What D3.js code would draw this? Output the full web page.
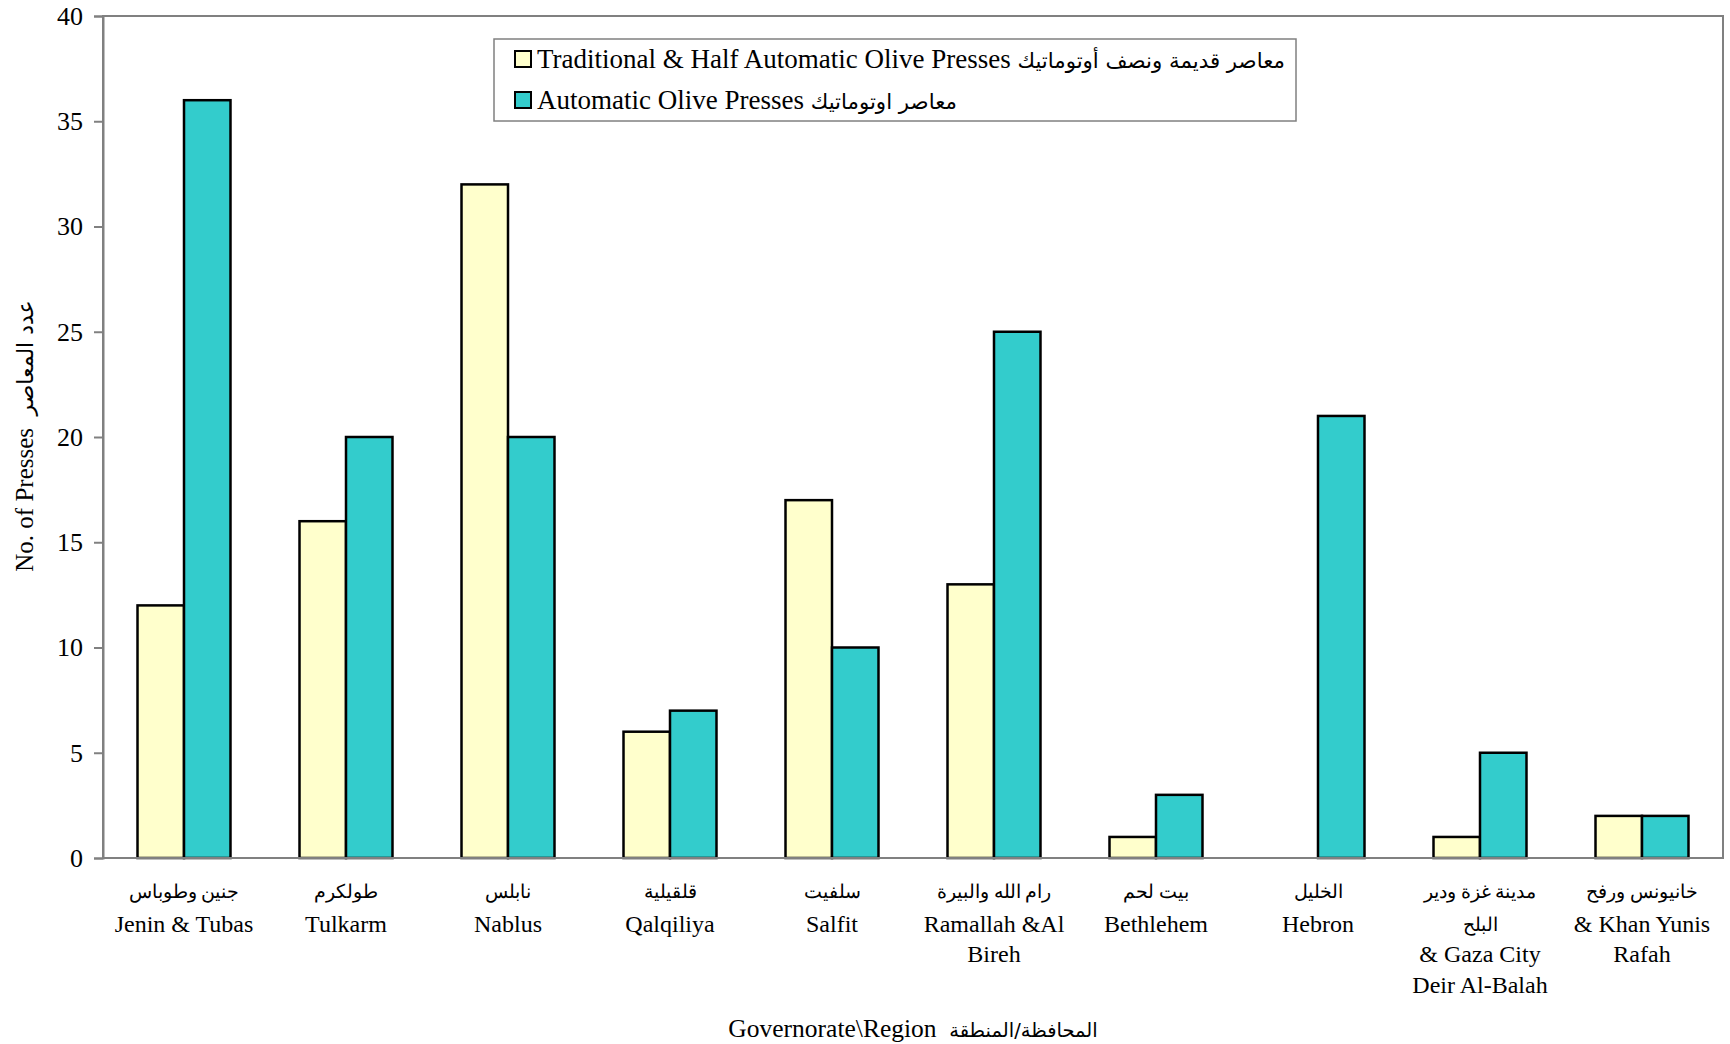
<!DOCTYPE html>
<html>
<head>
<meta charset="utf-8">
<script src="https://cdn.jsdelivr.net/npm/d3@7"></script>
<style>
  body { margin: 0; background: #fff; }
  svg { display: block; }
  text { font-family: "Liberation Serif", "Times New Roman", serif; fill: #000; }
</style>
</head>
<body>
<svg id="chart" width="1730" height="1044"></svg>
<script>
const categories = ["Jenin & Tubas","Tulkarm","Nablus","Qalqiliya","Salfit","Ramallah & Al Bireh","Bethlehem","Hebron","Gaza City & Deir Al-Balah","Khan Yunis & Rafah"];
const labelLines = [
  ["جنين وطوباس","Jenin & Tubas"],
  ["طولكرم","Tulkarm"],
  ["نابلس","Nablus"],
  ["قلقيلية","Qalqiliya"],
  ["سلفيت","Salfit"],
  ["رام الله والبيرة","Ramallah &Al","Bireh"],
  ["بيت لحم","Bethlehem"],
  ["الخليل","Hebron"],
  ["مدينة غزة ودير","البلح","& Gaza City","Deir Al-Balah"],
  ["خانيونس ورفح","& Khan Yunis","Rafah"]
];
const traditional = [12,16,32,6,17,13,1,0,1,2];
const automatic   = [36,20,20,7,10,25,3,21,5,2];
const seriesNames = ["Traditional & Half Automatic Olive Presses معاصر قديمة ونصف أوتوماتيك","Automatic Olive Presses معاصر اوتوماتيك"];
const seriesKeys = ["traditional","automatic"];
const seriesColors = ["#FFFFCC","#33CCCC"];
const yTicks = [0,5,10,15,20,25,30,35,40];

const svg = d3.select("#chart");
const L = 103, T = 16, R = 1723, B = 858;

const x = d3.scaleBand().domain(categories).range([L, R]).paddingInner(0.426).paddingOuter(0.213);
const xs = d3.scaleBand().domain(seriesKeys).range([0, x.bandwidth()]);
const y = d3.scaleLinear().domain([0, 40]).range([B, T]);

const data = categories.map((c, i) => ({cat: c, traditional: traditional[i], automatic: automatic[i]}));

// Plot frame
svg.append("rect").attr("x", L).attr("y", T).attr("width", R - L).attr("height", B - T)
  .attr("fill", "none").attr("stroke", "#808080").attr("stroke-width", 2);

// Y axis
const yAxis = d3.axisLeft(y).tickValues(yTicks).tickSize(9).tickPadding(11).tickFormat(d3.format("d"));
const ga = svg.append("g").attr("transform", `translate(${L},0)`).call(yAxis);
ga.select(".domain").attr("stroke", "#808080").attr("stroke-width", 2);
ga.selectAll(".tick line").attr("stroke", "#808080").attr("stroke-width", 2);
ga.selectAll(".tick text").attr("font-size", 26).attr("font-family", "Liberation Serif").attr("fill", "#000");

// Bars
const groups = svg.append("g").selectAll("g").data(data).join("g")
  .attr("transform", d => `translate(${x(d.cat)},0)`);
groups.selectAll("rect").data(d => seriesKeys.map((k, j) => ({k, v: d[k], j}))).join("rect")
  .attr("x", d => xs(d.k)).attr("width", xs.bandwidth())
  .attr("y", d => y(d.v)).attr("height", d => B - y(d.v))
  .attr("fill", d => seriesColors[d.j])
  .attr("stroke", d => d.v > 0 ? "#000" : "none").attr("stroke-width", 2.5);

// Baseline over bars
svg.append("line").attr("x1", L).attr("x2", R).attr("y1", B).attr("y2", B)
  .attr("stroke", "#808080").attr("stroke-width", 2);

// X labels
const lineY = [891, 924, 954, 985];
const lab = svg.append("g");
categories.forEach((c, i) => {
  const cx = x(c) + x.bandwidth() / 2;
  labelLines[i].forEach((t, k) => {
    const isAr = /[\u0600-\u06FF]/.test(t);
    lab.append("text").attr("x", cx).attr("y", lineY[k]).attr("dy", "0.35em")
      .attr("text-anchor", "middle")
      .attr("font-size", isAr ? 19 : 24)
      .attr("font-family", isAr ? "DejaVu Sans" : "Liberation Serif")
      .text(t);
  });
});

// Axis titles
svg.append("text").attr("x", 913).attr("y", 1028).attr("dy", "0.35em").attr("text-anchor", "middle")
  .attr("font-size", 25.5).attr("direction", "ltr")
  .html('Governorate\\Region&#160;&#160;<tspan font-family="DejaVu Sans" font-size="19.5">المحافظة/المنطقة</tspan>');

svg.append("text").attr("transform", "translate(24,436) rotate(-90)").attr("dy", "0.35em").attr("text-anchor", "middle")
  .attr("font-size", 25)
  .html('No. of Presses&#160;&#160;<tspan font-family="DejaVu Sans" font-size="22">عدد المعاصر</tspan>');

// Legend
const lg = svg.append("g");
lg.append("rect").attr("x", 494).attr("y", 39).attr("width", 802).attr("height", 82)
  .attr("fill", "#fff").attr("stroke", "#808080").attr("stroke-width", 1.5);
seriesNames.forEach((s, j) => {
  const cy = [59, 100][j];
  lg.append("rect").attr("x", 515).attr("y", cy - 8).attr("width", 16).attr("height", 16)
    .attr("fill", seriesColors[j]).attr("stroke", "#000").attr("stroke-width", 2);
  const parts = s.split(/ (?=[\u0600-\u06FF])/);
  const t = lg.append("text").attr("x", 537).attr("y", cy).attr("dy", "0.35em").attr("font-size", 27).attr("direction", "ltr");
  t.append("tspan").text(parts[0] + " ");
  t.append("tspan").attr("font-family", "DejaVu Sans").attr("font-size", 21.3).text(parts.slice(1).join(" "));
});
</script>
</body>
</html>
